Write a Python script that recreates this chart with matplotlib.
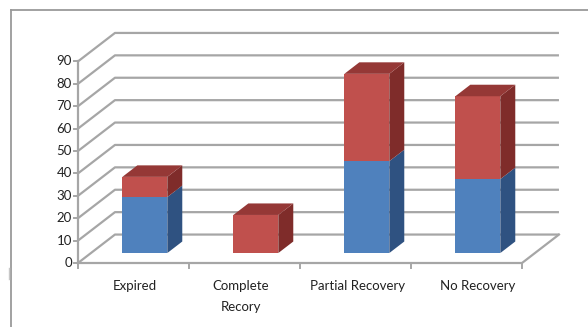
import matplotlib
matplotlib.use("Agg")
import matplotlib.pyplot as plt
from matplotlib.patches import Polygon
from matplotlib.lines import Line2D

# Data
categories = ["Expired", "Complete\nRecory", "Partial Recovery", "No Recovery"]
blue_values = [25, 0, 41, 33]
red_values = [9, 17, 39, 37]
y_ticks = [0, 10, 20, 30, 40, 50, 60, 70, 80, 90]

# Horizontal placement of each category label within its slot
label_pos = [0.51, 0.47, 0.52, 0.60]

# Colours (front, side, top)
BLUE = ("#4F81BD", "#2F5281", "#3D6699")
RED = ("#C0504D", "#7F2C2A", "#953836")
GRID = "#A6A6A6"

# Oblique depth offset in data units (x in categories, y in values)
DX, DY = 0.333, 12.7


def P(x, y, d):
    return (x + DX * d, y + DY * d)


fig = plt.figure(figsize=(5.88, 3.27), dpi=100)
ax = fig.add_axes([0, 0, 1, 1])
ax.set_xlim(-78 / 111, (588 - 78) / 111)
ax.set_ylim(-(327 - 263) / 2.24, 263 / 2.24)
ax.axis("off")

ncat = len(categories)
ymax = y_ticks[-1]

# Gridlines: diagonal on the left side plus the back wall
for v in y_ticks:
    pts = [P(0, v, 0), P(0, v, 1), P(ncat, v, 1)]
    ax.plot([p[0] for p in pts], [p[1] for p in pts], color=GRID, lw=1.6,
            solid_capstyle="butt", zorder=1)

# Floor outline
floor = [P(0, 0, 0), P(ncat, 0, 0), P(ncat, 0, 1)]
ax.plot([p[0] for p in floor], [p[1] for p in floor], color=GRID, lw=1.6, zorder=1)

# Value axis line with ticks and labels
ax.plot([0, 0], [0, ymax], color=GRID, lw=1.6, zorder=2)
for v in y_ticks:
    ax.plot([-0.04, 0], [v, v], color=GRID, lw=1.4, zorder=2)
    ax.text(-0.055, v, str(v), ha="right", va="center", fontsize=9.5,
            family="Lato", color="#222222")

# Category ticks and labels
for i in range(ncat + 1):
    ax.plot([i, i], [0, -2.2], color=GRID, lw=1.4, zorder=2)
for i, name in enumerate(categories):
    ax.text(i + label_pos[i], -7.6, name, ha="center", va="top", fontsize=9.5,
            family="Lato", color="#222222", linespacing=1.85)

# Bars
f0, f1 = 0.35, 0.755
bx0, bx1 = 0.283, 0.688


def draw_box(xl, xr, y0, y1, colors, top):
    front, side, topc = colors
    ax.add_patch(Polygon([P(xl, y0, f0), P(xr, y0, f0), P(xr, y1, f0), P(xl, y1, f0)],
                         closed=True, facecolor=front, edgecolor="none", zorder=5))
    ax.add_patch(Polygon([P(xr, y0, f0), P(xr, y0, f1), P(xr, y1, f1), P(xr, y1, f0)],
                         closed=True, facecolor=side, edgecolor="none", zorder=5))
    if top:
        ax.add_patch(Polygon([P(xl, y1, f0), P(xr, y1, f0), P(xr, y1, f1), P(xl, y1, f1)],
                             closed=True, facecolor=topc, edgecolor="none", zorder=5))


for i in range(ncat):
    b, r = blue_values[i], red_values[i]
    xl, xr = i + bx0, i + bx1
    if b > 0:
        draw_box(xl, xr, 0, b, BLUE, top=(r == 0))
    if r > 0:
        draw_box(xl, xr, b, b + r, RED, top=True)

# Chart area border (left and top edges)
fig.add_artist(Line2D([11 / 588, 11 / 588], [0, 1 - 10 / 327], color="#9A9A9A", lw=1.3))
fig.add_artist(Line2D([11 / 588, 1], [1 - 10 / 327, 1 - 10 / 327], color="#9A9A9A", lw=1.3))
fig.add_artist(Line2D([9 / 588, 9 / 588], [1 - 268 / 327, 1 - 279 / 327], color="#C8C8C8", lw=1))

fig.savefig("out.png", dpi=100, facecolor="white")
